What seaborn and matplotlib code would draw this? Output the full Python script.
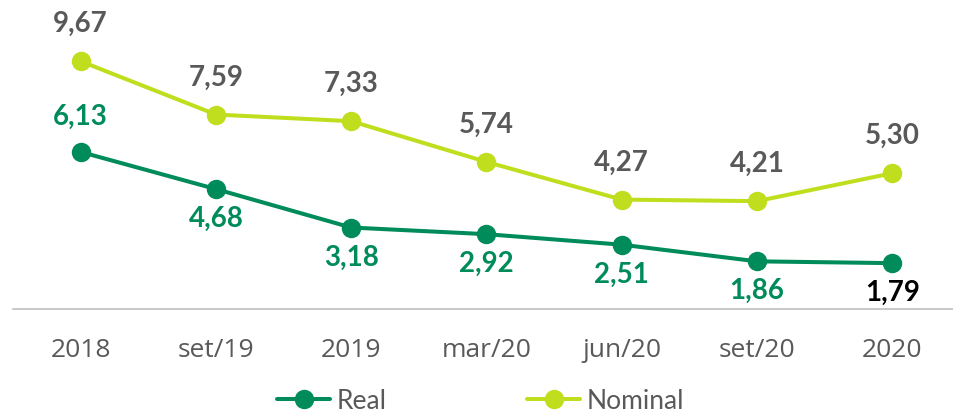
import matplotlib.pyplot as plt
plt.switch_backend('agg')
import seaborn as sns
import pandas as pd
from matplotlib.lines import Line2D

# dados
periodos = ['2018', 'set/19', '2019', 'mar/20', 'jun/20', 'set/20', '2020']
real = [6.13, 4.68, 3.18, 2.92, 2.51, 1.86, 1.79]
nominal = [9.67, 7.59, 7.33, 5.74, 4.27, 4.21, 5.30]

cores = {'Real': '#008B5A', 'Nominal': '#C0DE1E'}
cinza = '#595959'

df = pd.concat([
    pd.DataFrame({'periodo': periodos, 'valor': real, 'serie': 'Real'}),
    pd.DataFrame({'periodo': periodos, 'valor': nominal, 'serie': 'Nominal'}),
])

sns.set_style('white')
plt.rcParams['font.family'] = ['Open Sans', 'DejaVu Sans']

W, H = 954, 416
fig = plt.figure(figsize=(W / 100, H / 100), dpi=100)
ax = fig.add_axes([13 / W, 107 / H, 947 / W, 309 / H])

sns.lineplot(data=df, x='periodo', y='valor', hue='serie', palette=cores,
             marker='o', markersize=14, markeredgewidth=0, linewidth=2.9,
             sort=False, legend=False, ax=ax)

ax.set_xlim(-0.5, 6.5)
ax.set_ylim(0, 12.06)
ax.set_xlabel('')
ax.set_ylabel('')
ax.set_yticks([])

for s in ['top', 'right', 'left']:
    ax.spines[s].set_visible(False)
ax.spines['bottom'].set_color('#BFBFBF')
ax.spines['bottom'].set_linewidth(1.2)

# ticks: rotulos no centro, tracos entre categorias
ax.set_xticks(range(len(periodos)))
ax.set_xticklabels(periodos, fontsize=19, color=cinza)
ax.tick_params(axis='x', which='major', length=0, pad=21)
ax.set_xticks([i - 0.5 for i in range(len(periodos) + 1)], minor=True)
ax.tick_params(axis='x', which='minor', length=7, width=1.2, color='#BFBFBF',
               direction='out')

lbl = dict(fontsize=20, fontweight='bold', family=['Lato', 'DejaVu Sans'],
           ha='center', va='center', textcoords='offset pixels')

for i, v in enumerate(nominal):
    ax.annotate(f'{v:.2f}'.replace('.', ','), (i, v), xytext=(0, 37),
                color=cinza, **lbl)

for i, v in enumerate(real):
    dy = 35 if i == 0 else -30
    cor = 'black' if i == len(real) - 1 else cores['Real']
    ax.annotate(f'{v:.2f}'.replace('.', ','), (i, v), xytext=(0, dy),
                color=cor, **lbl)

handles = [Line2D([], [], color=cores[k], marker='o', markersize=14,
                  markeredgewidth=0, linewidth=2.9) for k in ['Real', 'Nominal']]
fig.legend(handles, ['Real', 'Nominal'], loc='center',
           bbox_to_anchor=(0.504, 0.036), ncol=2, frameon=False,
           prop={'family': ['Lato', 'DejaVu Sans'], 'size': 19},
           labelcolor=cinza, handlelength=2.0, handletextpad=0.25,
           columnspacing=5.33)

fig.savefig('out.png', dpi=100)
